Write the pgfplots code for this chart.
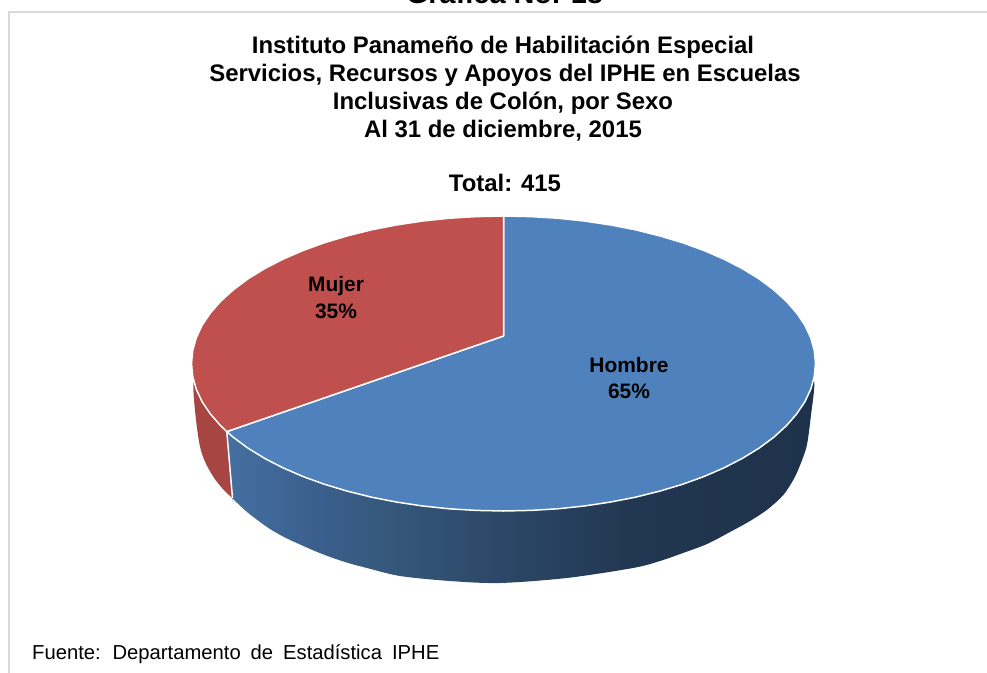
\documentclass[border=0pt]{standalone}
\usepackage{pgfplots}
\usepackage{fontspec}
\setmainfont{Liberation Sans}
\pgfplotsset{compat=1.18}
\definecolor{hombre}{HTML}{4F81BD}
\definecolor{mujer}{HTML}{C0504D}
\definecolor{mujerside}{HTML}{A64542}
\definecolor{framegray}{HTML}{D9D9D9}
\definecolor{hombreA}{HTML}{44709F}
\definecolor{hombreB}{HTML}{3C6191}
\definecolor{hombreC}{HTML}{345678}
\definecolor{hombreD}{HTML}{2C4868}
\definecolor{hombreE}{HTML}{213650}
\definecolor{hombreF}{HTML}{1E324B}
\pgfdeclarehorizontalshading{hombreside}{100bp}{
  color(0bp)=(hombreA);
  color(25bp)=(hombreA);
  color(31.5bp)=(hombreB);
  color(39.7bp)=(hombreC);
  color(48bp)=(hombreD);
  color(60bp)=(hombreE);
  color(75bp)=(hombreF);
  color(100bp)=(hombreF)}
\newcommand{\fs}[1]{\fontsize{#1}{#1}\selectfont\bfseries}
\tikzset{lbl/.style={anchor=base, inner sep=0pt, text=black}}
\begin{document}
\begin{tikzpicture}
\path[clip] (0,0) rectangle (987bp,673bp);
\begin{axis}[
  at={(0,0)}, anchor=south west,
  scale only axis, width=987bp, height=673bp,
  xmin=0, xmax=987, ymin=0, ymax=673, y dir=reverse,
  hide axis, clip=false,
]
% frame
\addplot[draw=framegray, line width=2bp, forget plot] coordinates {(9,673) (9,12) (987,12)};
% side: mujer
\addplot[fill=mujerside, draw=none, smooth, tension=0.5, forget plot] coordinates {
 (215,380) (198,372) (193.3,385) (196,420) (200,446.7) (205,461.7) (213.3,476.7)
 (222,488) (231.5,497.4) (232.3,498.3) (232.3,497.5) (232,490) (226.8,431.6) (226,420)} -- cycle;
% side: hombre
\addplot[shade, shading=hombreside, draw=none, smooth, tension=0.5, forget plot] coordinates {
 (226.8,431.6) (232.3,497.5) (232.3,498.3) (233,499) (246.7,511.7) (258,520.5) (270,529) (285,537.5)
 (300,544.5) (316,551.5) (333,558) (350,563.5) (367,568) (400,576) (450,581) (500,583) (566.7,578)
 (633,568) (660,561) (683,553) (707,544) (730,532) (750,521) (766.7,510) (783.3,495) (795,476.7)
 (803.3,456.7) (807.3,443) (811,415) (814.3,383) (808,370)
 (790,400) (700,460) (600,490) (500,500) (400,490) (300,465) (240,430)} -- cycle;
% seam
\addplot[draw=white, line width=1.5bp, forget plot] coordinates {(226.8,431.6) (232.5,498)};
% top: hombre
\addplot[fill=hombre, draw=white, line width=1.5bp, line join=round, forget plot] coordinates {
 (503.5,336) (503.5,216) (530.7,216.6) (557.7,218.2) (584.2,221) (610.2,224.9) (635.4,229.8)
 (659.5,235.8) (682.5,242.7) (704,250.5) (724.1,259.2) (742.5,268.7) (759.1,278.9)
 (773.7,289.8) (786.3,301.2) (796.7,313.1) (804.9,325.3) (810.8,337.9) (814.3,350.6)
 (815.5,363.5) (814.3,376.4) (810.8,389.1) (804.9,401.7) (796.7,413.9) (786.3,425.8)
 (773.7,437.3) (759.1,448.1) (742.5,458.3) (724.1,467.8) (704,476.5) (682.5,484.3)
 (659.5,491.2) (635.4,497.2) (610.2,502.1) (584.2,506) (557.7,508.8) (530.7,510.4)
 (503.5,511) (476.3,510.4) (449.3,508.8) (422.8,506) (396.8,502.1) (371.6,497.2)
 (347.5,491.2) (324.5,484.3) (303,476.5) (282.9,467.8) (264.5,458.3) (247.9,448.1)
 (233.3,437.3) (226.8,431.6)} -- cycle;
% top: mujer
\addplot[fill=mujer, draw=white, line width=1.5bp, line join=round, forget plot] coordinates {
 (503.5,336) (226.8,431.6) (220.7,425.8) (210.3,413.9) (202.1,401.7) (196.2,389.1)
 (192.7,376.4) (191.5,363.5) (192.7,350.6) (196.2,337.9) (202.1,325.3) (210.3,313.1)
 (220.7,301.2) (233.3,289.8) (247.9,278.9) (264.5,268.7) (282.9,259.2) (303,250.5)
 (324.5,242.7) (347.5,235.8) (371.6,229.8) (396.8,224.9) (422.8,221) (449.3,218.2)
 (476.3,216.6) (503.5,216)} -- cycle;
% labels
\node[lbl] at (axis cs:336,291) {\fs{21}Mujer};
\node[lbl] at (axis cs:336,318) {\fs{21}35\%};
\node[lbl] at (axis cs:629,372) {\fs{21}Hombre};
\node[lbl] at (axis cs:629,398) {\fs{21}65\%};
% titles
\node[lbl] at (axis cs:504.5,4) {\fs{29}Gráfica No. 18};
\node[lbl] at (axis cs:503,54) {\fs{24}Instituto Panameño de Habilitación Especial};
\node[lbl] at (axis cs:505,82) {\fs{24}Servicios, Recursos y Apoyos del IPHE en Escuelas};
\node[lbl] at (axis cs:503,109) {\fs{24}Inclusivas de Colón, por Sexo};
\node[lbl] at (axis cs:503,137) {\fs{24}Al 31 de diciembre, 2015};
\node[lbl] at (axis cs:505,191) {\fs{24}Total: 415};
\node[lbl, anchor=base west] at (axis cs:32,659) {\fontsize{20.3}{20.3}\selectfont\spaceskip=10pt Fuente: Departamento de Estadística IPHE};
\end{axis}
\end{tikzpicture}
\end{document}
